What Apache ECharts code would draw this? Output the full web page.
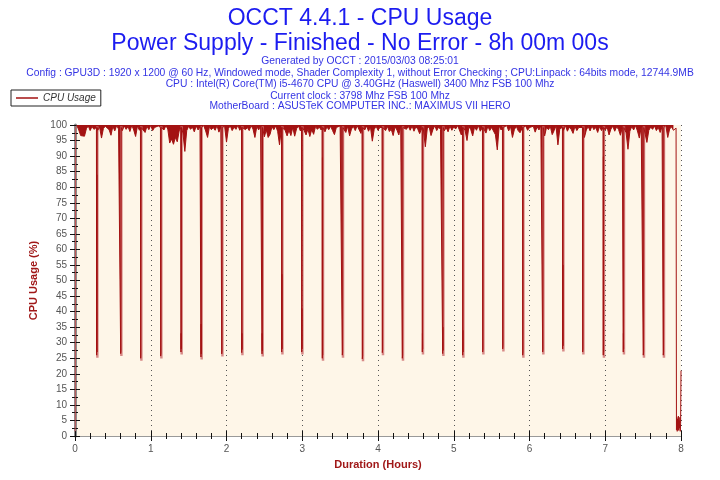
<!DOCTYPE html>
<html><head><meta charset="utf-8">
<script src="https://cdn.jsdelivr.net/npm/echarts@6/dist/echarts.min.js"></script>
<style>html,body{margin:0;padding:0;background:#fff}#c{width:720px;height:480px}</style>
</head><body><div id="c"></div>
<script>
const titleMain = 'OCCT 4.4.1 - CPU Usage';
const titleSub = 'Power Supply - Finished - No Error - 8h 00m 00s';
const infoLines = [
  'Generated by OCCT : 2015/03/03 08:25:01',
  'Config : GPU3D : 1920 x 1200 @ 60 Hz, Windowed mode, Shader Complexity 1, without Error Checking ; CPU:Linpack : 64bits mode, 12744.9MB',
  'CPU : Intel(R) Core(TM) i5-4670 CPU @ 3.40GHz (Haswell) 3400 Mhz FSB 100 Mhz',
  'Current clock : 3798 Mhz FSB 100 Mhz',
  'MotherBoard : ASUSTeK COMPUTER INC.: MAXIMUS VII HERO'
];
const seriesName = 'CPU Usage';
const xTickLabels = ['0','1','2','3','4','5','6','7','8'];

// steady-load samples, one every 0.025 h starting at 0.025 h
const sampleStep = 0.025;
const usage = [
 99.8,98.4,96.6,97.2,96.4,98.8,99.7,98.2,99.5,98.6,99.9,98.3,99.3,95.8,98.9,99.6,
 99.4,98.5,96.7,99.6,98.1,99.8,98.7,99.2,98.2,99.7,98.6,99.5,97.9,99.9,98.4,96.3,
 99.7,98.3,99.3,98.8,97.6,99.6,98.5,99.9,98.2,99.2,98.6,99.7,97.5,99.4,98.4,99.8,
 98.7,94.2,95.5,93.8,96.0,94.6,98.1,99.5,97.4,91.5,98.2,99.6,98.6,99.3,97.8,99.7,
 98.4,99.4,98.7,99.8,98.1,96.0,99.5,98.5,99.2,98.3,99.8,97.7,99.4,98.6,99.6,94.5,
 98.9,99.7,98.2,99.3,98.6,99.9,98.3,97.6,99.6,98.5,99.2,98.2,99.8,98.7,96.0,99.5,
 98.4,99.8,98.1,96.2,98.4,96.0,97.0,99.4,98.5,99.7,98.0,93.6,98.8,99.5,98.2,96.5,
 98.3,96.6,99.2,96.4,98.8,99.7,98.1,96.5,98.2,96.8,98.7,96.3,98.5,97.0,99.5,98.6,
 99.3,98.4,99.8,97.8,99.4,98.5,99.6,98.2,96.9,99.2,98.6,99.7,98.3,99.4,97.6,99.6,
 96.5,98.7,99.5,98.2,99.8,98.5,97.3,99.3,98.4,99.7,98.0,99.4,94.8,98.6,99.6,98.3,
 99.2,98.5,99.8,98.2,99.5,97.9,98.6,96.6,99.4,98.4,96.8,99.7,98.1,99.2,98.6,99.6,
 98.3,99.7,98.0,99.4,98.7,97.2,99.6,98.4,93.0,98.8,99.5,96.6,98.5,99.8,98.2,99.3,
 98.6,99.6,98.1,99.2,97.8,99.7,98.3,99.4,98.7,99.8,98.4,96.8,99.3,98.2,95.0,99.5,
 98.5,96.5,99.4,98.3,99.8,98.0,99.3,98.6,97.4,99.6,98.2,99.2,98.7,96.9,92.0,99.7,
 98.4,99.4,98.6,99.8,98.1,99.5,96.0,98.5,99.6,98.2,97.5,99.3,98.7,99.7,98.3,99.2,
 98.6,99.6,97.7,99.4,98.4,99.8,98.0,96.5,99.3,98.5,99.5,96.9,98.2,99.7,93.6,98.8,
 99.4,98.3,99.8,98.0,99.3,98.6,97.3,99.6,98.2,99.2,98.7,99.7,96.0,98.4,99.5,98.1,
 99.7,98.5,99.2,97.6,99.5,98.2,99.8,98.4,99.3,96.8,98.7,99.6,98.0,99.4,98.6,96.7,
 99.2,92.0,97.5,92.2,98.0,99.5,98.4,99.8,98.1,95.8,99.4,98.5,99.6,94.4,98.3,99.3,
 98.6,99.7,98.2,99.2,97.6,99.5,98.4,99.8,96.0,98.7,99.4,98.3
];

// periodic load drops
const dipHours = [0.286,0.603,0.867,1.131,1.399,1.663,1.937,2.201,2.469,2.729,2.993,3.265,3.529,3.793,4.057,4.321,4.585,4.854,5.118,5.382,5.646,5.910,6.174,6.438,6.702,6.974,7.238,7.502,7.766];
const dipLows    = [26,26.5,25,25.7,27,25.4,26.4,26.8,26.4,27,27,25,26,24.8,26.8,25,27,26.5,26,27,28,26,27,28,27,26,27,26,26];
const dipPlateau = [84,26.5,26,25.7,33,36,26.4,33,33,52,41,89.5,26,24.8,26.8,25,33,35,34,27,28,26,27,55,27,89.8,33,26,26];
const dipRim = 99.2;

// start and end of the run
const startHours = [0, 0.004, 0.008];
const startValues = [1.5, 3, 99.4];
const endHours = [7.935, 7.94, 7.945, 7.95, 7.955, 7.96, 7.965, 7.97, 7.975, 7.98, 7.985, 7.99, 7.995, 8.0];
const endValues = [99.0, 2.0, 6.0, 1.5, 5.5, 2.0, 6.4, 1.8, 5.0, 2.5, 6.0, 1.5, 4.0, 21.0];

// ---- build series data ----
const pts = [];
usage.forEach((v, k) => {
  const t = (k + 1) * sampleStep;
  if (dipHours.some(d => Math.abs(d - t) < 0.012)) return;
  pts.push([t, v]);
});
dipHours.forEach((d, k) => {
  pts.push([d - 0.003, dipRim]);
  pts.push([d, dipLows[k]]);
  pts.push([d + 0.002, dipPlateau[k]]);
  pts.push([d + 0.004, dipLows[k] + 1]);
  pts.push([d + 0.007, dipRim]);
});
pts.sort((a, b) => a[0] - b[0]);

const startPts = startHours.map((h, k) => [h, startValues[k]]);
startPts.push(pts[0]);
const endPts = [pts[pts.length - 1]].concat(endHours.map((h, k) => [h, endValues[k]]));

const band = [];
dipHours.forEach((d, k) => {
  band.push([d + 0.009, 99.6]);
  band.push([d + 0.009, dipLows[k] - 0.8]);
  band.push([d + 0.009, '-']);
});

const FONT = 'Liberation Sans';
const RED = '#a31212';
const chart = echarts.init(document.getElementById('c'), null, {renderer: 'canvas'});
const yCommon = {type: 'value', min: 0, max: 100, interval: 5};
const xCommon = {type: 'value', min: 0, max: 8, interval: 1};
const infoTops = [56.5, 68, 79.5, 91, 101.5];
const titles = [
  {text: titleMain, left: 'center', top: 2, textStyle: {fontFamily: FONT, fontSize: 23, fontWeight: 'normal', color: '#1c1cf0'}},
  {text: titleSub, left: 'center', top: 27, textStyle: {fontFamily: FONT, fontSize: 23, fontWeight: 'normal', color: '#1c1cf0'}}
].concat(infoLines.map((s, k) => ({
  text: s, left: 'center', top: infoTops[k], padding: 0,
  textStyle: {fontFamily: FONT, fontSize: 10.3, fontWeight: 'normal', color: '#3434e4'}
})));

chart.setOption({
  animation: false,
  backgroundColor: '#ffffff',
  title: titles,
  legend: {
    data: [seriesName], left: 11, top: 90, orient: 'horizontal',
    borderColor: '#222', borderWidth: 1, borderRadius: 0, padding: [3, 5, 3, 5],
    icon: 'rect', itemWidth: 22, itemHeight: 1.5, itemGap: 4,
    textStyle: {fontFamily: FONT, fontSize: 10, fontStyle: 'italic', color: '#333'}
  },
  grid: {left: 75, right: 39, top: 125, bottom: 44, show: true, backgroundColor: '#fef6e8', borderWidth: 0},
  xAxis: [
    Object.assign({}, xCommon, {
      position: 'bottom',
      name: 'Duration (Hours)', nameLocation: 'middle', nameGap: 23,
      nameTextStyle: {fontFamily: FONT, fontSize: 11, fontWeight: 'bold', color: '#a01818'},
      axisLine: {show: true, lineStyle: {color: '#111', width: 1}},
      axisTick: {show: true, length: 5, lineStyle: {color: '#111'}},
      minorTick: {show: true, splitNumber: 5, length: 3, lineStyle: {color: '#111'}},
      axisLabel: {margin: 8, fontFamily: FONT, fontSize: 10, color: '#555',
        formatter: v => xTickLabels[Math.round(v)]},
      splitLine: {show: true, lineStyle: {color: '#555', width: 1, type: [1, 4]}}
    }),
    Object.assign({}, xCommon, {
      position: 'bottom', axisLine: {show: false},
      axisTick: {show: true, inside: true, length: 5, lineStyle: {color: '#111'}},
      minorTick: {show: true, splitNumber: 5, length: 3, lineStyle: {color: '#111'}},
      axisLabel: {show: false}, splitLine: {show: false}
    }),
    Object.assign({}, xCommon, {
      position: 'top', axisLine: {show: true, lineStyle: {color: '#999', width: 1}},
      axisTick: {show: false}, axisLabel: {show: false}, splitLine: {show: false}
    })
  ],
  yAxis: [
    Object.assign({}, yCommon, {
      position: 'left',
      name: 'CPU Usage (%)', nameLocation: 'middle', nameGap: 25,
      nameTextStyle: {fontFamily: FONT, fontSize: 11, fontWeight: 'bold', color: '#a01818'},
      axisLine: {show: true, lineStyle: {color: '#111', width: 1}},
      axisTick: {show: true, length: 5, lineStyle: {color: '#111'}},
      minorTick: {show: true, splitNumber: 2, length: 3, lineStyle: {color: '#111'}},
      axisLabel: {margin: 8, fontFamily: FONT, fontSize: 10, color: '#555'},
      splitLine: {show: false}
    }),
    Object.assign({}, yCommon, {
      position: 'left', axisLine: {show: false},
      axisTick: {show: true, inside: true, length: 5, lineStyle: {color: '#111'}},
      minorTick: {show: true, splitNumber: 2, length: 3, lineStyle: {color: '#111'}},
      axisLabel: {show: false}, splitLine: {show: false}
    }),
    Object.assign({}, yCommon, {
      position: 'right', axisLine: {show: true, lineStyle: {color: '#8e8e8e', width: 3}},
      axisTick: {show: false}, axisLabel: {show: false}, splitLine: {show: false}
    })
  ],
  series: [
    {name: 'dip-band', type: 'line', data: band, xAxisIndex: 0, yAxisIndex: 0,
     showSymbol: false, connectNulls: false, silent: true,
     lineStyle: {color: 'rgba(205,110,110,0.8)', width: 2.5}},
    {name: 'run-start', type: 'line', data: startPts, showSymbol: false, silent: true,
     lineStyle: {color: 'rgba(200,80,80,0.9)', width: 1}},
    {name: 'run-end', type: 'line', data: endPts, showSymbol: false, silent: true,
     lineStyle: {color: RED, width: 1}},
    {name: seriesName, type: 'line', data: pts, xAxisIndex: 0, yAxisIndex: 0,
     showSymbol: false, color: RED,
     lineStyle: {color: RED, width: 1},
     areaStyle: {origin: 'end', color: RED, opacity: 1}}
  ]
});
</script></body></html>
